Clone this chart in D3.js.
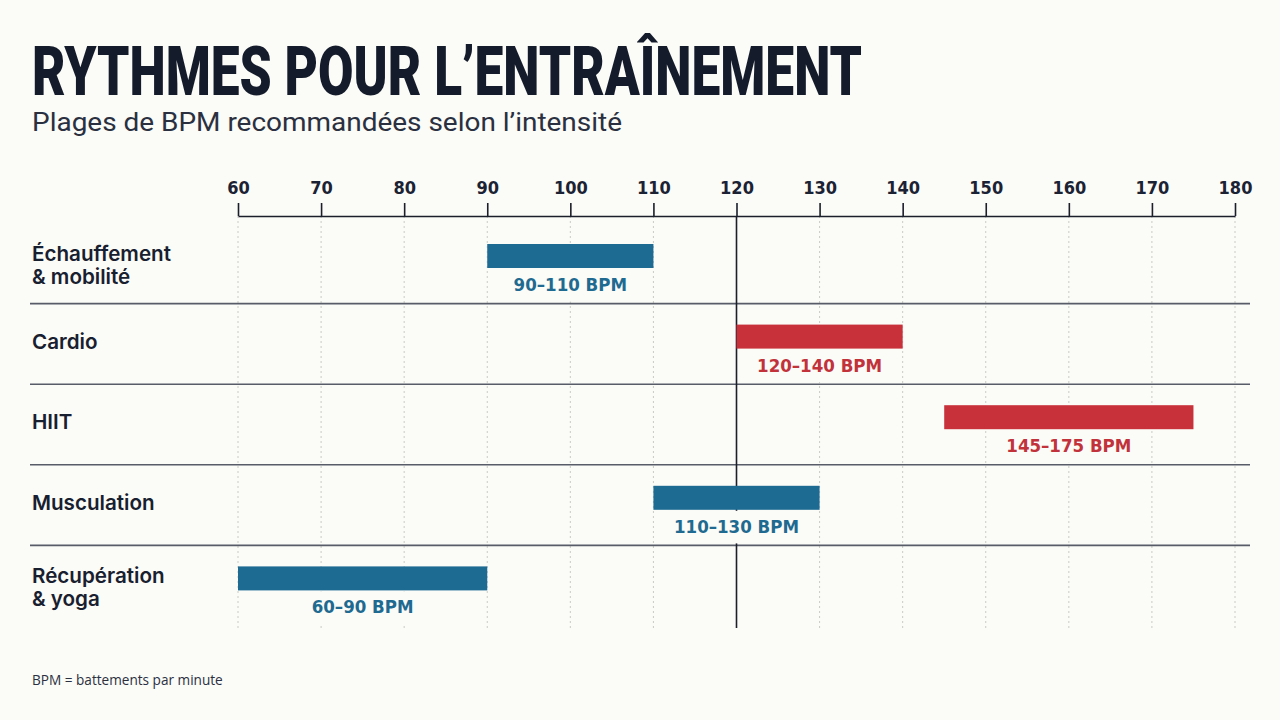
<!DOCTYPE html>
<html>
<head>
<meta charset="utf-8">
<script src="https://cdn.jsdelivr.net/npm/d3@7"></script>
<style>
  html, body { margin: 0; padding: 0; background: #fbfbf7; }
  svg { display: block; }
</style>
</head>
<body>
<div id="chart"></div>
<script>
var width = 1280;
var height = 720;

// data
var zones = ["Échauffement\n& mobilité", "Cardio", "HIIT", "Musculation", "Récupération\n& yoga"];
var lows = [90, 120, 145, 110, 60];
var highs = [110, 140, 175, 130, 90];
var groups = ["modérée", "haute", "haute", "modérée", "modérée"];
var tickValues = [60, 70, 80, 90, 100, 110, 120, 130, 140, 150, 160, 170, 180];
var refValue = 120;

var data = zones.map(function(z, i) {
  return { zone: z, lo: lows[i], hi: highs[i], group: groups[i] };
});

var svg = d3.select('#chart').append('svg')
  .attr('width', width)
  .attr('height', height);

svg.append('rect')
  .attr('width', width).attr('height', height)
  .attr('fill', '#fbfbf7');

// title + subtitle
svg.append('text')
  .attr('x', 32).attr('y', 95)
  .attr('textLength', 830)
  .attr('lengthAdjust', 'spacingAndGlyphs')
  .style('font-family', 'Roboto, Inter, sans-serif')
  .style('font-weight', 900)
  .style('font-size', '68px')
  .attr('fill', '#141b2a')
  .text('RYTHMES POUR L’ENTRAÎNEMENT');

svg.append('text')
  .attr('x', 32).attr('y', 131)
  .attr('textLength', 590)
  .attr('lengthAdjust', 'spacingAndGlyphs')
  .style('font-family', 'Roboto, sans-serif')
  .style('font-weight', 400)
  .style('font-size', '26px')
  .attr('fill', '#2a3040')
  .text('Plages de BPM recommandées selon l’intensité');

// scales
var xScale = d3.scaleLinear()
  .domain([60, 180])
  .range([238, 1235]);

var yScale = d3.scaleBand()
  .domain(zones)
  .range([223, 626]);

var color = d3.scaleOrdinal()
  .domain(['modérée', 'haute'])
  .range(['#1d6a93', '#c8313a']);

var labelColor = d3.scaleOrdinal()
  .domain(['modérée', 'haute'])
  .range(['#1f6a90', '#c1323b']);

var axisY = 216;
var gridBottom = 630;

// dotted gridlines
svg.append('g').selectAll('line')
  .data(tickValues)
  .enter().append('line')
  .attr('x1', function(d) { return xScale(d); })
  .attr('x2', function(d) { return xScale(d); })
  .attr('y1', axisY)
  .attr('y2', gridBottom)
  .attr('stroke', '#c9c9c6')
  .attr('stroke-width', 1)
  .attr('stroke-dasharray', '2,3');

// row separators
svg.append('g').selectAll('line')
  .data(zones.slice(1))
  .enter().append('line')
  .attr('x1', 30).attr('x2', 1250)
  .attr('y1', function(d) { return yScale(d); })
  .attr('y2', function(d) { return yScale(d); })
  .attr('stroke', '#575c68')
  .attr('stroke-width', 1.6);

// reference line at 120
svg.append('line')
  .attr('x1', xScale(refValue)).attr('x2', xScale(refValue))
  .attr('y1', axisY).attr('y2', 628)
  .attr('stroke', '#1a1f2b')
  .attr('stroke-width', 1.6);

// axis on top
var axis = d3.axisTop(xScale)
  .tickValues(tickValues)
  .tickSize(13)
  .tickSizeOuter(0)
  .tickPadding(9);

var gAxis = svg.append('g')
  .attr('transform', 'translate(0,' + axisY + ')')
  .call(axis);

gAxis.select('.domain').attr('stroke', '#1a1f2b').attr('stroke-width', 1.6);
gAxis.selectAll('.tick line').attr('stroke', '#1a1f2b').attr('stroke-width', 1.6);
gAxis.selectAll('.tick text')
  .style('font-family', "'Liberation Sans Narrow', 'DejaVu Sans Condensed', sans-serif")
  .style('font-weight', 700)
  .style('font-size', '18px')
  .attr('fill', '#1a2233');

// bars
var barOffset = 21;
var barHeight = 24;

svg.append('g').selectAll('rect')
  .data(data)
  .enter().append('rect')
  .attr('x', function(d) { return xScale(d.lo); })
  .attr('width', function(d) { return xScale(d.hi) - xScale(d.lo); })
  .attr('y', function(d) { return yScale(d.zone) + barOffset; })
  .attr('height', barHeight)
  .attr('fill', function(d) { return color(d.group); });

// range labels with a background patch
var labels = svg.append('g').selectAll('g')
  .data(data)
  .enter().append('g');

labels.append('rect')
  .attr('class', 'lbg')
  .attr('fill', '#fbfbf7');

labels.append('text')
  .attr('x', function(d) { return (xScale(d.lo) + xScale(d.hi)) / 2; })
  .attr('y', function(d) { return yScale(d.zone) + barOffset + barHeight + 23; })
  .attr('text-anchor', 'middle')
  .style('font-family', "'Liberation Sans Narrow', 'DejaVu Sans Condensed', sans-serif")
  .style('font-weight', 700)
  .style('font-size', '18.5px')
  .attr('fill', function(d) { return labelColor(d.group); })
  .text(function(d) { return d.lo + '–' + d.hi + ' BPM'; });

labels.each(function(d) {
  var g = d3.select(this);
  var bb = g.select('text').node().getBBox();
  g.select('.lbg')
    .attr('x', bb.x - 6)
    .attr('width', bb.width + 12)
    .attr('y', yScale(d.zone) + barOffset + barHeight + 1)
    .attr('height', yScale.bandwidth() - barOffset - barHeight - 3);
});

// zone names
var names = svg.append('g').selectAll('text')
  .data(data)
  .enter().append('text')
  .attr('x', 32)
  .style('font-family', 'Inter, "Open Sans", sans-serif')
  .style('font-weight', 600)
  .style('font-size', '20.6px')
  .attr('fill', '#18202f');

names.each(function(d) {
  var lines = d.zone.split('\n');
  var t = d3.select(this);
  var base = lines.length > 1 ? yScale(d.zone) + 38 : yScale(d.zone) + 45;
  lines.forEach(function(l, i) {
    t.append('tspan')
      .attr('x', 32)
      .attr('y', base + i * 23)
      .text(l);
  });
});

// footnote
svg.append('text')
  .attr('x', 32).attr('y', 685)
  .style('font-family', '"Open Sans", sans-serif')
  .style('font-size', '13.6px')
  .attr('fill', '#2a3040')
  .text('BPM = battements par minute');
</script>
</body>
</html>
